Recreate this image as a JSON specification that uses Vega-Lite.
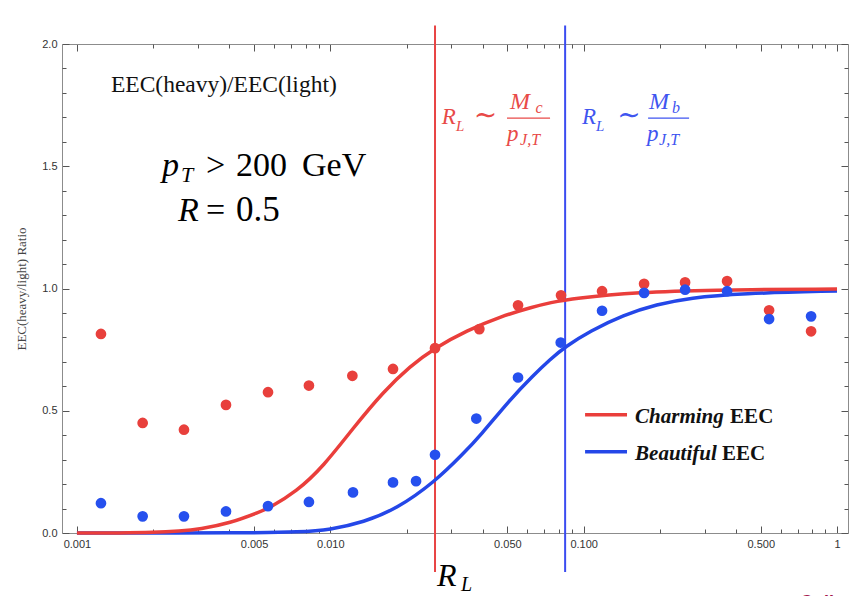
{
  "$schema": "https://vega.github.io/schema/vega-lite/v6.json",
  "width": 786,
  "height": 489,
  "autosize": "none",
  "padding": {"left": 62, "top": 44, "right": 2, "bottom": 63},
  "background": "white",
  "config": {
    "view": {"stroke": null},
    "axis": {"grid": false, "domainColor": "#8c8c8c", "tickColor": "#555555", "labelFont": "Liberation Sans", "labelFontSize": 11, "labelColor": "#333333", "labelFlush": false, "labelOverlap": false}
  },
  "datasets": {
    "one": [{"k": 1}],
    "points": [
      {"series": "Charming", "x": 0.001244, "y": 0.814},
      {"series": "Charming", "x": 0.001817, "y": 0.450},
      {"series": "Charming", "x": 0.002645, "y": 0.4225},
      {"series": "Charming", "x": 0.003875, "y": 0.524},
      {"series": "Charming", "x": 0.005677, "y": 0.576},
      {"series": "Charming", "x": 0.008235, "y": 0.603},
      {"series": "Charming", "x": 0.01222, "y": 0.643},
      {"series": "Charming", "x": 0.01768, "y": 0.671},
      {"series": "Charming", "x": 0.02590, "y": 0.756},
      {"series": "Charming", "x": 0.03875, "y": 0.834},
      {"series": "Charming", "x": 0.05508, "y": 0.931},
      {"series": "Charming", "x": 0.08141, "y": 0.972},
      {"series": "Charming", "x": 0.1182, "y": 0.989},
      {"series": "Charming", "x": 0.1732, "y": 1.019},
      {"series": "Charming", "x": 0.2514, "y": 1.025},
      {"series": "Charming", "x": 0.3682, "y": 1.030},
      {"series": "Charming", "x": 0.5394, "y": 0.911},
      {"series": "Charming", "x": 0.7901, "y": 0.825},
      {"series": "Beautiful", "x": 0.001244, "y": 0.122},
      {"series": "Beautiful", "x": 0.001817, "y": 0.068},
      {"series": "Beautiful", "x": 0.002645, "y": 0.068},
      {"series": "Beautiful", "x": 0.003875, "y": 0.088},
      {"series": "Beautiful", "x": 0.005677, "y": 0.110},
      {"series": "Beautiful", "x": 0.008235, "y": 0.127},
      {"series": "Beautiful", "x": 0.01229, "y": 0.166},
      {"series": "Beautiful", "x": 0.01768, "y": 0.207},
      {"series": "Beautiful", "x": 0.02180, "y": 0.212},
      {"series": "Beautiful", "x": 0.02590, "y": 0.320},
      {"series": "Beautiful", "x": 0.0377, "y": 0.468},
      {"series": "Beautiful", "x": 0.05508, "y": 0.636},
      {"series": "Beautiful", "x": 0.0812, "y": 0.779},
      {"series": "Beautiful", "x": 0.1182, "y": 0.909},
      {"series": "Beautiful", "x": 0.1732, "y": 0.982},
      {"series": "Beautiful", "x": 0.2514, "y": 0.995},
      {"series": "Beautiful", "x": 0.3682, "y": 0.989},
      {"series": "Beautiful", "x": 0.5394, "y": 0.875},
      {"series": "Beautiful", "x": 0.7901, "y": 0.886}
    ],
    "curves": [
      {"series": "Charming", "x": 0.001, "y": 0.0},
      {"series": "Charming", "x": 0.0015, "y": 0.0},
      {"series": "Charming", "x": 0.002, "y": 0.002},
      {"series": "Charming", "x": 0.00255, "y": 0.008},
      {"series": "Charming", "x": 0.00306, "y": 0.016},
      {"series": "Charming", "x": 0.00402, "y": 0.04},
      {"series": "Charming", "x": 0.00528, "y": 0.087},
      {"series": "Charming", "x": 0.00569, "y": 0.10},
      {"series": "Charming", "x": 0.00737, "y": 0.17},
      {"series": "Charming", "x": 0.00938, "y": 0.272},
      {"series": "Charming", "x": 0.01233, "y": 0.43},
      {"series": "Charming", "x": 0.01619, "y": 0.578},
      {"series": "Charming", "x": 0.02064, "y": 0.682},
      {"series": "Charming", "x": 0.0259, "y": 0.758},
      {"series": "Charming", "x": 0.03456, "y": 0.828},
      {"series": "Charming", "x": 0.04677, "y": 0.885},
      {"series": "Charming", "x": 0.06327, "y": 0.925},
      {"series": "Charming", "x": 0.07368, "y": 0.942},
      {"series": "Charming", "x": 0.0911, "y": 0.960},
      {"series": "Charming", "x": 0.167, "y": 0.985},
      {"series": "Charming", "x": 0.3062, "y": 0.994},
      {"series": "Charming", "x": 1.0, "y": 0.998},
      {"series": "Beautiful", "x": 0.001, "y": 0.0},
      {"series": "Beautiful", "x": 0.00482, "y": 0.0},
      {"series": "Beautiful", "x": 0.00759, "y": 0.004},
      {"series": "Beautiful", "x": 0.00997, "y": 0.013},
      {"series": "Beautiful", "x": 0.01353, "y": 0.044},
      {"series": "Beautiful", "x": 0.01831, "y": 0.099},
      {"series": "Beautiful", "x": 0.0259, "y": 0.21},
      {"series": "Beautiful", "x": 0.0335, "y": 0.325},
      {"series": "Beautiful", "x": 0.039, "y": 0.397},
      {"series": "Beautiful", "x": 0.0512, "y": 0.546},
      {"series": "Beautiful", "x": 0.06327, "y": 0.645},
      {"series": "Beautiful", "x": 0.07368, "y": 0.71},
      {"series": "Beautiful", "x": 0.0845, "y": 0.762},
      {"series": "Beautiful", "x": 0.106, "y": 0.826},
      {"series": "Beautiful", "x": 0.1435, "y": 0.892},
      {"series": "Beautiful", "x": 0.1944, "y": 0.935},
      {"series": "Beautiful", "x": 0.263, "y": 0.962},
      {"series": "Beautiful", "x": 0.4144, "y": 0.98},
      {"series": "Beautiful", "x": 1.0, "y": 0.99}
    ],
    "vlines": [
      {"series": "Charming", "x": 0.0259},
      {"series": "Beautiful", "x": 0.0845}
    ]
  },
  "data": {"name": "one"},
  "layer": [
    {
      "data": {"name": "vlines"},
      "transform": [{"filter": "datum.series === 'Charming'"}],
      "mark": {"type": "rule", "color": "#E84444", "strokeWidth": 2},
      "encoding": {
        "x": {"field": "x", "type": "quantitative", "scale": {"type": "log", "domain": [0.000873, 1.105], "nice": false},
          "axis": {"orient": "top", "values": [0.001, 0.005, 0.01, 0.05, 0.1, 0.5, 1], "tickSize": -7, "labels": false, "title": null}},
        "y": {"datum": 2.0755, "type": "quantitative", "scale": {"domain": [0, 2], "nice": false},
          "axis": {"orient": "right", "values": [0, 0.5, 1, 1.5, 2], "tickSize": -7, "labels": false, "title": null}},
        "y2": {"datum": -0.16}
      }
    },
    {
      "data": {"name": "vlines"},
      "transform": [{"filter": "datum.series === 'Beautiful'"}],
      "mark": {"type": "rule", "color": "#3B4CF0", "strokeWidth": 2},
      "encoding": {
        "x": {"field": "x", "type": "quantitative", "scale": {"type": "log", "domain": [0.000873, 1.105], "nice": false},
          "axis": {"orient": "top", "values": [0.002, 0.003, 0.004, 0.006, 0.007, 0.008, 0.009, 0.02, 0.03, 0.04, 0.06, 0.07, 0.08, 0.09, 0.2, 0.3, 0.4, 0.6, 0.7, 0.8, 0.9], "tickSize": -4, "labels": false, "domain": false, "title": null}},
        "y": {"datum": 2.0755, "type": "quantitative", "scale": {"domain": [0, 2], "nice": false},
          "axis": {"orient": "right", "values": [0.1, 0.2, 0.3, 0.4, 0.6, 0.7, 0.8, 0.9, 1.1, 1.2, 1.3, 1.4, 1.6, 1.7, 1.8, 1.9], "tickSize": -4, "labels": false, "domain": false, "title": null}},
        "y2": {"datum": -0.16}
      }
    },
    {
      "data": {"name": "curves"},
      "transform": [{"filter": "datum.series === 'Beautiful'"}],
      "mark": {"type": "line", "color": "#2447E8", "strokeWidth": 3.5, "interpolate": "basis"},
      "encoding": {
        "x": {"field": "x", "type": "quantitative", "scale": {"type": "log", "domain": [0.000873, 1.105], "nice": false},
          "axis": {"orient": "bottom", "values": [0.001, 0.005, 0.01, 0.05, 0.1, 0.5, 1], "labelExpr": "datum.value >= 1 ? '1' : format(datum.value, '.3f')", "tickSize": -7, "labelPadding": 12, "title": null}},
        "y": {"field": "y", "type": "quantitative", "scale": {"domain": [0, 2], "nice": false},
          "axis": {"orient": "left", "values": [0, 0.5, 1, 1.5, 2], "format": ".1f", "tickSize": -7, "labelPadding": 12, "title": "EEC(heavy/light) Ratio", "titleFont": "Liberation Serif", "titleFontSize": 13, "titleFontWeight": "normal", "titleColor": "#444444", "titlePadding": 13}}
      }
    },
    {
      "data": {"name": "curves"},
      "transform": [{"filter": "datum.series === 'Charming'"}],
      "mark": {"type": "line", "color": "#EA3E3B", "strokeWidth": 3.5, "interpolate": "basis"},
      "encoding": {
        "x": {"field": "x", "type": "quantitative", "scale": {"type": "log", "domain": [0.000873, 1.105], "nice": false},
          "axis": {"orient": "bottom", "values": [0.002, 0.003, 0.004, 0.006, 0.007, 0.008, 0.009, 0.02, 0.03, 0.04, 0.06, 0.07, 0.08, 0.09, 0.2, 0.3, 0.4, 0.6, 0.7, 0.8, 0.9], "tickSize": -4, "labels": false, "domain": false, "title": null}},
        "y": {"field": "y", "type": "quantitative", "scale": {"domain": [0, 2], "nice": false},
          "axis": {"orient": "left", "values": [0.1, 0.2, 0.3, 0.4, 0.6, 0.7, 0.8, 0.9, 1.1, 1.2, 1.3, 1.4, 1.6, 1.7, 1.8, 1.9], "tickSize": -4, "labels": false, "domain": false, "title": null}}
      }
    },
    {
      "data": {"name": "points"},
      "transform": [{"filter": "datum.series === 'Charming'"}],
      "mark": {"type": "circle", "color": "#E8403C", "size": 115, "opacity": 1},
      "encoding": {
        "x": {"field": "x", "type": "quantitative", "scale": {"type": "log", "domain": [0.000873, 1.105], "nice": false}, "axis": null},
        "y": {"field": "y", "type": "quantitative", "scale": {"domain": [0, 2], "nice": false}, "axis": null}
      }
    },
    {
      "data": {"name": "points"},
      "transform": [{"filter": "datum.series === 'Beautiful'"}],
      "mark": {"type": "circle", "color": "#2650EE", "size": 115, "opacity": 1},
      "encoding": {
        "x": {"field": "x", "type": "quantitative", "scale": {"type": "log", "domain": [0.000873, 1.105], "nice": false}, "axis": null},
        "y": {"field": "y", "type": "quantitative", "scale": {"domain": [0, 2], "nice": false}, "axis": null}
      }
    },
    {
      "mark": {"type": "text", "text": "EEC(heavy)/EEC(light)", "font": "Liberation Serif", "fontSize": 23.5, "align": "left", "baseline": "alphabetic", "color": "#111111"},
      "encoding": {"x": {"datum": 0.001362, "type": "quantitative", "axis": null}, "y": {"datum": 1.8048, "type": "quantitative", "axis": null}}
    },
    {
      "mark": {"type": "text", "text": "p", "font": "Liberation Serif", "fontSize": 34, "fontStyle": "italic", "align": "left", "baseline": "alphabetic", "color": "#000000"},
      "encoding": {"x": {"datum": 0.002166, "type": "quantitative", "axis": null}, "y": {"datum": 1.4602, "type": "quantitative", "axis": null}}
    },
    {
      "mark": {"type": "text", "text": "T", "font": "Liberation Serif", "fontSize": 22, "fontStyle": "italic", "align": "left", "baseline": "alphabetic", "color": "#000000"},
      "encoding": {"x": {"datum": 0.002574, "type": "quantitative", "axis": null}, "y": {"datum": 1.4356, "type": "quantitative", "axis": null}}
    },
    {
      "mark": {"type": "text", "text": ">", "font": "Liberation Serif", "fontSize": 34, "align": "left", "baseline": "alphabetic", "color": "#000000"},
      "encoding": {"x": {"datum": 0.003229, "type": "quantitative", "axis": null}, "y": {"datum": 1.4602, "type": "quantitative", "axis": null}}
    },
    {
      "mark": {"type": "text", "text": "200", "font": "Liberation Serif", "fontSize": 34, "align": "left", "baseline": "alphabetic", "color": "#000000"},
      "encoding": {"x": {"datum": 0.004243, "type": "quantitative", "axis": null}, "y": {"datum": 1.4602, "type": "quantitative", "axis": null}}
    },
    {
      "mark": {"type": "text", "text": "GeV", "font": "Liberation Serif", "fontSize": 34, "align": "left", "baseline": "alphabetic", "color": "#000000"},
      "encoding": {"x": {"datum": 0.007733, "type": "quantitative", "axis": null}, "y": {"datum": 1.4602, "type": "quantitative", "axis": null}}
    },
    {
      "mark": {"type": "text", "text": "R", "font": "Liberation Serif", "fontSize": 34, "fontStyle": "italic", "align": "left", "baseline": "alphabetic", "color": "#000000"},
      "encoding": {"x": {"datum": 0.002504, "type": "quantitative", "axis": null}, "y": {"datum": 1.2756, "type": "quantitative", "axis": null}}
    },
    {
      "mark": {"type": "text", "text": "=", "font": "Liberation Serif", "fontSize": 34, "align": "left", "baseline": "alphabetic", "color": "#000000"},
      "encoding": {"x": {"datum": 0.003229, "type": "quantitative", "axis": null}, "y": {"datum": 1.2756, "type": "quantitative", "axis": null}}
    },
    {
      "mark": {"type": "text", "text": "0.5", "font": "Liberation Serif", "fontSize": 35, "align": "left", "baseline": "alphabetic", "color": "#000000"},
      "encoding": {"x": {"datum": 0.004243, "type": "quantitative", "axis": null}, "y": {"datum": 1.2756, "type": "quantitative", "axis": null}}
    },
    {
      "mark": {"type": "text", "text": "R", "font": "Liberation Serif", "fontSize": 23, "fontStyle": "italic", "align": "left", "baseline": "alphabetic", "color": "#E84A48"},
      "encoding": {"x": {"datum": 0.02754, "type": "quantitative", "axis": null}, "y": {"datum": 1.6735, "type": "quantitative", "axis": null}}
    },
    {
      "mark": {"type": "text", "text": "L", "font": "Liberation Serif", "fontSize": 15, "fontStyle": "italic", "align": "left", "baseline": "alphabetic", "color": "#E84A48"},
      "encoding": {"x": {"datum": 0.03135, "type": "quantitative", "axis": null}, "y": {"datum": 1.646, "type": "quantitative", "axis": null}}
    },
    {
      "mark": {"type": "text", "text": "∼", "font": "DejaVu Serif", "fontSize": 28, "align": "center", "baseline": "middle", "color": "#E84A48"},
      "encoding": {"x": {"datum": 0.04099, "type": "quantitative", "axis": null}, "y": {"datum": 1.7063, "type": "quantitative", "axis": null}}
    },
    {
      "mark": {"type": "rule", "color": "#E84A48", "strokeWidth": 1.3},
      "encoding": {"x": {"datum": 0.04983, "type": "quantitative", "axis": null}, "x2": {"datum": 0.07368}, "y": {"datum": 1.6969, "type": "quantitative", "axis": null}}
    },
    {
      "mark": {"type": "text", "text": "M", "font": "Liberation Serif", "fontSize": 24, "fontStyle": "italic", "align": "left", "baseline": "alphabetic", "color": "#E84A48"},
      "encoding": {"x": {"datum": 0.05121, "type": "quantitative", "axis": null}, "y": {"datum": 1.735, "type": "quantitative", "axis": null}}
    },
    {
      "mark": {"type": "text", "text": "c", "font": "Liberation Serif", "fontSize": 16, "fontStyle": "italic", "align": "left", "baseline": "alphabetic", "color": "#E84A48"},
      "encoding": {"x": {"datum": 0.0645, "type": "quantitative", "axis": null}, "y": {"datum": 1.7186, "type": "quantitative", "axis": null}}
    },
    {
      "mark": {"type": "text", "text": "p", "font": "Liberation Serif", "fontSize": 23, "fontStyle": "italic", "align": "left", "baseline": "alphabetic", "color": "#E84A48"},
      "encoding": {"x": {"datum": 0.04983, "type": "quantitative", "axis": null}, "y": {"datum": 1.605, "type": "quantitative", "axis": null}}
    },
    {
      "mark": {"type": "text", "text": "J,T", "font": "Liberation Serif", "fontSize": 16, "fontStyle": "italic", "align": "left", "baseline": "alphabetic", "color": "#E84A48"},
      "encoding": {"x": {"datum": 0.0561, "type": "quantitative", "axis": null}, "y": {"datum": 1.5874, "type": "quantitative", "axis": null}}
    },
    {
      "mark": {"type": "text", "text": "R", "font": "Liberation Serif", "fontSize": 23, "fontStyle": "italic", "align": "left", "baseline": "alphabetic", "color": "#3F55F0"},
      "encoding": {"x": {"datum": 0.09856, "type": "quantitative", "axis": null}, "y": {"datum": 1.6735, "type": "quantitative", "axis": null}}
    },
    {
      "mark": {"type": "text", "text": "L", "font": "Liberation Serif", "fontSize": 15, "fontStyle": "italic", "align": "left", "baseline": "alphabetic", "color": "#3F55F0"},
      "encoding": {"x": {"datum": 0.1119, "type": "quantitative", "axis": null}, "y": {"datum": 1.646, "type": "quantitative", "axis": null}}
    },
    {
      "mark": {"type": "text", "text": "∼", "font": "DejaVu Serif", "fontSize": 28, "align": "center", "baseline": "middle", "color": "#3F55F0"},
      "encoding": {"x": {"datum": 0.1511, "type": "quantitative", "axis": null}, "y": {"datum": 1.7063, "type": "quantitative", "axis": null}}
    },
    {
      "mark": {"type": "rule", "color": "#3F55F0", "strokeWidth": 1.3},
      "encoding": {"x": {"datum": 0.1796, "type": "quantitative", "axis": null}, "x2": {"datum": 0.2607}, "y": {"datum": 1.6969, "type": "quantitative", "axis": null}}
    },
    {
      "mark": {"type": "text", "text": "M", "font": "Liberation Serif", "fontSize": 24, "fontStyle": "italic", "align": "left", "baseline": "alphabetic", "color": "#3F55F0"},
      "encoding": {"x": {"datum": 0.1813, "type": "quantitative", "axis": null}, "y": {"datum": 1.735, "type": "quantitative", "axis": null}}
    },
    {
      "mark": {"type": "text", "text": "b", "font": "Liberation Serif", "fontSize": 16, "fontStyle": "italic", "align": "left", "baseline": "alphabetic", "color": "#3F55F0"},
      "encoding": {"x": {"datum": 0.2234, "type": "quantitative", "axis": null}, "y": {"datum": 1.7186, "type": "quantitative", "axis": null}}
    },
    {
      "mark": {"type": "text", "text": "p", "font": "Liberation Serif", "fontSize": 23, "fontStyle": "italic", "align": "left", "baseline": "alphabetic", "color": "#3F55F0"},
      "encoding": {"x": {"datum": 0.1779, "type": "quantitative", "axis": null}, "y": {"datum": 1.605, "type": "quantitative", "axis": null}}
    },
    {
      "mark": {"type": "text", "text": "J,T", "font": "Liberation Serif", "fontSize": 16, "fontStyle": "italic", "align": "left", "baseline": "alphabetic", "color": "#3F55F0"},
      "encoding": {"x": {"datum": 0.1985, "type": "quantitative", "axis": null}, "y": {"datum": 1.5874, "type": "quantitative", "axis": null}}
    },
    {
      "mark": {"type": "text", "text": "R", "font": "Liberation Serif", "fontSize": 32, "fontStyle": "italic", "align": "left", "baseline": "alphabetic", "color": "#000000"},
      "encoding": {"x": {"datum": 0.02637, "type": "quantitative", "axis": null}, "y": {"datum": -0.2174, "type": "quantitative", "axis": null}}
    },
    {
      "mark": {"type": "text", "text": "L", "font": "Liberation Serif", "fontSize": 20, "fontStyle": "italic", "align": "left", "baseline": "alphabetic", "color": "#000000"},
      "encoding": {"x": {"datum": 0.03281, "type": "quantitative", "axis": null}, "y": {"datum": -0.2379, "type": "quantitative", "axis": null}}
    },
    {
      "mark": {"type": "rule", "color": "#EA3E3B", "strokeWidth": 3.5},
      "encoding": {"x": {"datum": 0.1013, "type": "quantitative", "axis": null}, "x2": {"datum": 0.1483}, "y": {"datum": 0.484, "type": "quantitative", "axis": null}}
    },
    {
      "mark": {"type": "rule", "color": "#2447E8", "strokeWidth": 3.5},
      "encoding": {"x": {"datum": 0.1013, "type": "quantitative", "axis": null}, "x2": {"datum": 0.1483}, "y": {"datum": 0.3322, "type": "quantitative", "axis": null}}
    },
    {
      "mark": {"type": "text", "text": "Charming", "font": "Liberation Serif", "fontSize": 21, "fontStyle": "italic", "fontWeight": "bold", "align": "left", "baseline": "alphabetic", "color": "#111111"},
      "encoding": {"x": {"datum": 0.1596, "type": "quantitative", "axis": null}, "y": {"datum": 0.4512, "type": "quantitative", "axis": null}}
    },
    {
      "mark": {"type": "text", "text": "EEC", "font": "Liberation Serif", "fontSize": 21, "fontWeight": "bold", "align": "left", "baseline": "alphabetic", "color": "#111111"},
      "encoding": {"x": {"datum": 0.3785, "type": "quantitative", "axis": null}, "y": {"datum": 0.4512, "type": "quantitative", "axis": null}}
    },
    {
      "mark": {"type": "text", "text": "Beautiful", "font": "Liberation Serif", "fontSize": 21, "fontStyle": "italic", "fontWeight": "bold", "align": "left", "baseline": "alphabetic", "color": "#111111"},
      "encoding": {"x": {"datum": 0.1596, "type": "quantitative", "axis": null}, "y": {"datum": 0.2966, "type": "quantitative", "axis": null}}
    },
    {
      "mark": {"type": "text", "text": "EEC", "font": "Liberation Serif", "fontSize": 21, "fontWeight": "bold", "align": "left", "baseline": "alphabetic", "color": "#111111"},
      "encoding": {"x": {"datum": 0.3519, "type": "quantitative", "axis": null}, "y": {"datum": 0.2966, "type": "quantitative", "axis": null}}
    },
    {
      "mark": {"type": "text", "text": "Coll", "font": "Liberation Sans", "fontSize": 18, "fontWeight": "bold", "align": "left", "baseline": "alphabetic", "color": "#A3174E"},
      "encoding": {"x": {"datum": 0.7148, "type": "quantitative", "axis": null}, "y": {"datum": -0.3076, "type": "quantitative", "axis": null}}
    }
  ],
  "resolve": {"axis": {"x": "independent", "y": "independent"}}
}
